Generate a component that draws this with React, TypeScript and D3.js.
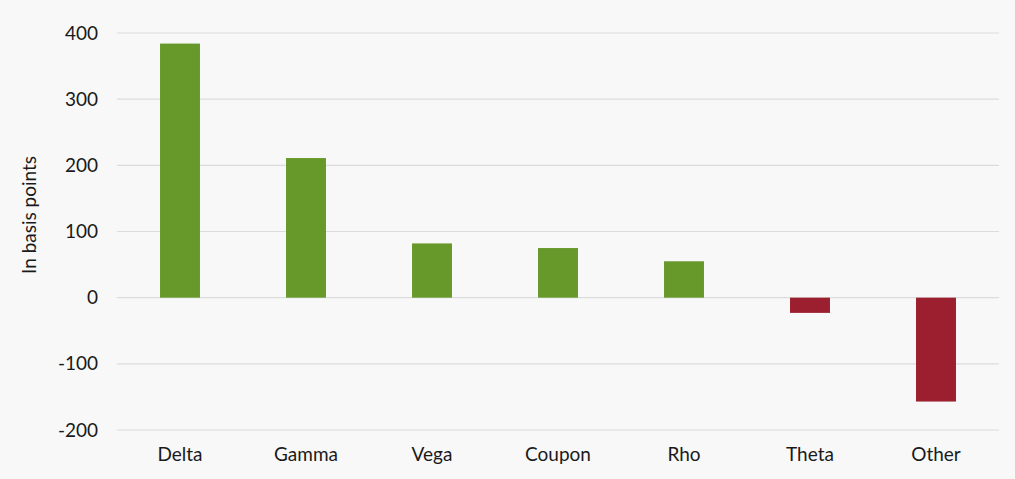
import * as d3 from 'd3';
import React from 'react';

const categories = ['Delta', 'Gamma', 'Vega', 'Coupon', 'Rho', 'Theta', 'Other'];
const values = [384, 211, 82, 75, 55, -23, -157];
const yTicks = [-200, -100, 0, 100, 200, 300, 400];

export default function App() {
  const width = 1015;
  const height = 479;
  const margin = { top: 33, right: 16, bottom: 49, left: 117 };
  const innerW = width - margin.left - margin.right;
  const innerH = height - margin.top - margin.bottom;

  const x = d3
    .scaleBand<string>()
    .domain(categories)
    .range([0, innerW])
    .paddingInner(0.683)
    .paddingOuter(0.3415);
  const y = d3.scaleLinear().domain([-200, 400]).range([innerH, 0]);

  const font = 'Lato, "Open Sans", sans-serif';

  return (
    <svg
      width={width}
      height={height}
      style={{ position: 'absolute', left: 0, top: 0, background: '#f8f8f8', fontFamily: font }}
    >
      <g transform={`translate(${margin.left},${margin.top})`}>
        {yTicks.map(t => (
          <g key={t}>
            <line x1={0} x2={innerW} y1={y(t)} y2={y(t)} stroke="#dcdcdc" strokeWidth={1.2} />
            <text x={-19} y={y(t)} dy="0.35em" textAnchor="end" fontSize={19} fill="#1a1a1a">
              {t}
            </text>
          </g>
        ))}
        {categories.map((c, i) => {
          const v = values[i];
          return (
            <rect
              key={c}
              x={x(c)}
              width={x.bandwidth()}
              y={y(Math.max(0, v))}
              height={Math.abs(y(v) - y(0))}
              fill={v >= 0 ? '#66992a' : '#9b1f2e'}
            />
          );
        })}
        {categories.map(c => (
          <text
            key={c}
            x={(x(c) ?? 0) + x.bandwidth() / 2}
            y={innerH + 31}
            textAnchor="middle"
            fontSize={19}
            fill="#1a1a1a"
          >
            {c}
          </text>
        ))}
      </g>
      <text
        transform={`translate(36,${margin.top + y(125)}) rotate(-90)`}
        textAnchor="middle"
        fontSize={19}
        fill="#1a1a1a"
      >
        In basis points
      </text>
    </svg>
  );
}
